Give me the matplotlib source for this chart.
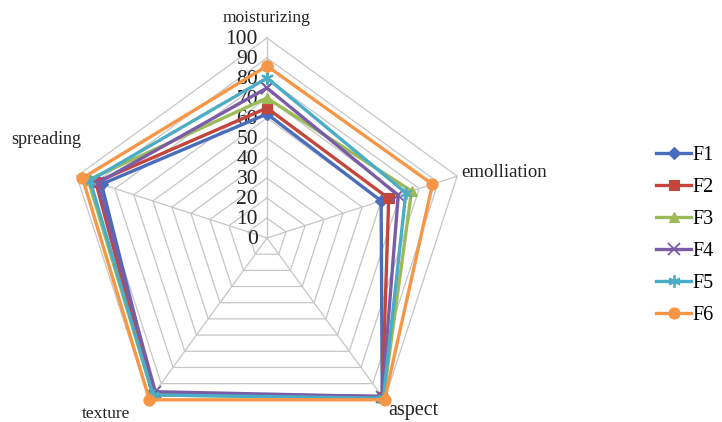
import numpy as np
import matplotlib.pyplot as plt

# Sensory evaluation scores of six formulations
categories = ["moisturizing", "emolliation", "aspect", "texture", "spreading"]
series_names = ["F1", "F2", "F3", "F4", "F5", "F6"]
F1 = [62, 60, 98, 96, 87]
F2 = [65, 64, 98, 97, 90]
F3 = [70, 76, 99, 97, 94]
F4 = [75, 69, 98, 95, 89]
F5 = [80, 73, 99, 97, 93]
F6 = [86, 87, 100, 100, 97]
radial_ticks = list(range(0, 101, 10))

series = [F1, F2, F3, F4, F5, F6]
colors = ["#4a6cbc", "#c4453c", "#9bbb59", "#7a5ca6", "#4bacc6", "#f79646"]
markers = ["D", "s", "^", "x", (6, 2, 0), "o"]
msizes = [6, 7, 7, 8, 9, 8]

serif = "Liberation Serif"

fig = plt.figure(figsize=(7.22, 4.22), dpi=100)
cx, cy, R = 267, 422 - 238, 200
ax = fig.add_axes([(cx - R) / 722, (cy - R) / 422, 2 * R / 722, 2 * R / 422],
                  projection="polar")
ax.set_theta_zero_location("N")
ax.set_theta_direction(-1)
ax.set_ylim(0, 100)
ax.axis("off")

n = len(categories)
theta = np.linspace(0, 2 * np.pi, n, endpoint=False)
theta_closed = np.append(theta, theta[0])

# pentagonal grid
grid_color = "#c6c6c6"
for r in radial_ticks[1:]:
    ax.plot(theta_closed, [r] * (n + 1), color=grid_color, lw=0.9,
            clip_on=False, zorder=1)
for t in theta:
    ax.plot([t, t], [0, 100], color=grid_color, lw=0.9, clip_on=False, zorder=1)

# radial value labels along the top spoke
for r in radial_ticks:
    ax.annotate(str(r), xy=(0, r), xytext=(-9, -2), textcoords="offset pixels",
                ha="right", va="center", fontsize=15.5, family=serif,
                color="#222222", zorder=2)

# data series
for vals, name, c, m, ms in zip(series, series_names, colors, markers, msizes):
    v = list(vals) + [vals[0]]
    mew = 1.3 if m in ("x", (6, 2, 0)) else 0.8
    ax.plot(theta_closed, v, color=c, lw=2.4, marker=m, markersize=ms,
            markeredgewidth=mew, markerfacecolor=c, markeredgecolor=c,
            label=name, clip_on=False, zorder=3)

# category labels
label_specs = [
    ((0, 20), "center", 12.5),
    ((4, 4), "left", 13.5),
    ((4, -11), "left", 14.5),
    ((-19, -14), "right", 12.5),
    ((-31, 37), "center", 13),
]
for t, name, (off, ha, fs) in zip(theta, categories, label_specs):
    ax.annotate(name, xy=(t, 100), xytext=off, textcoords="offset pixels",
                ha=ha, va="center", fontsize=fs, family=serif, color="#222222",
                annotation_clip=False)

fig.legend(loc="upper left", bbox_to_anchor=(656 / 722, 1 - 146 / 422),
           frameon=False, borderpad=0, borderaxespad=0, handlelength=1.75,
           handletextpad=0.05, labelspacing=0.64,
           prop={"family": serif, "size": 14.5})

fig.savefig("out.png", dpi=100)
